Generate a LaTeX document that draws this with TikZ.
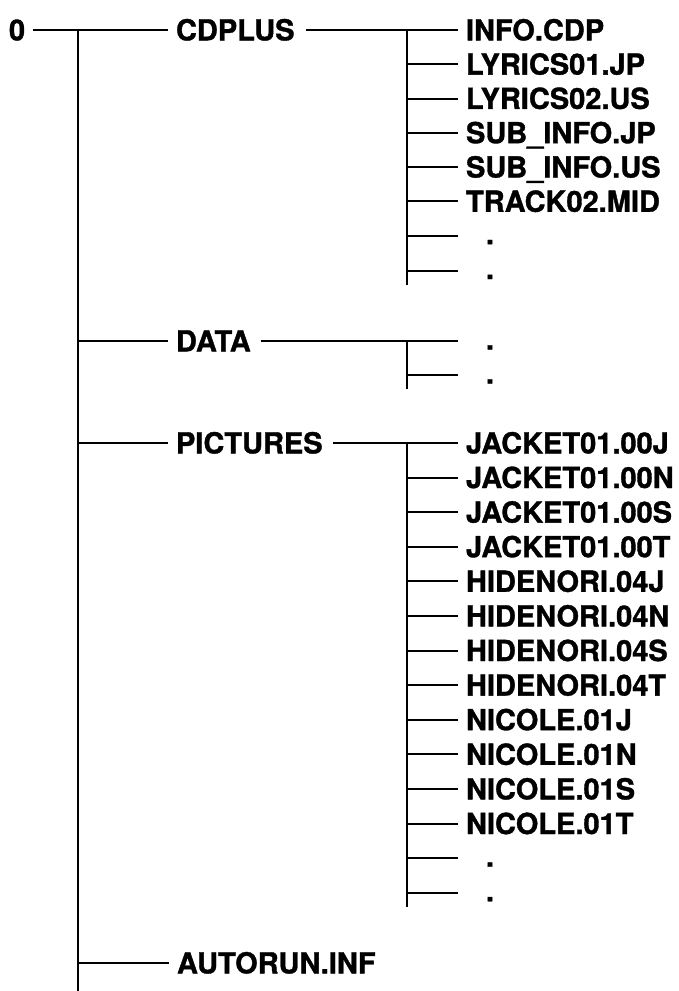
\documentclass[tikz,border=0pt]{standalone}
\usepackage{fontspec}
\setmainfont{TeX Gyre Heros}[BoldFeatures={FakeBold=1.2}]
\begin{document}
\begin{tikzpicture}[x=1pt,y=-1pt,
  lbl/.style={anchor=west, inner sep=0pt, outer sep=8pt, text height=20.8pt, text depth=0pt, font=\fontsize{29}{31}\selectfont\bfseries},
  dotlbl/.style={lbl, text height=17pt},
  hl/.style={line width=2pt},
  vl/.style={line width=2.9pt}]
\useasboundingbox (0,0) rectangle (678,991);
% root and directories
\node[lbl] (root) at (1,30) {0};
\node[lbl] (cdplus) at (168,30) {CDPLUS};
\node[lbl] (data) at (168,341) {DATA};
\node[lbl] (pict) at (168,443) {PICTURES};
\node[lbl] (autorun) at (169,963) {AUTORUN.INF};
% main trunk
\coordinate (m0) at (78,29);
\coordinate (m1) at (78,341);
\coordinate (m2) at (78,443);
\coordinate (m3) at (78,963);
\coordinate (mend) at (78,991);
\draw[vl] (m0) -- (mend);
\draw[hl] (root.east) -- (cdplus.west);
\draw[hl] (m1) -- (data.west);
\draw[hl] (m2) -- (pict.west);
\draw[hl] (m3) -- (autorun.west);
% CDPLUS subtree
\node[lbl] (c0) at (458,30.0) {INFO.CDP};
\node[lbl] (c1) at (458,64.2) {LYRICS01.JP};
\node[lbl] (c2) at (458,98.5) {LYRICS02.US};
\node[lbl] (c3) at (458,132.8) {SUB\_INFO.JP};
\node[lbl] (c4) at (458,167.1) {SUB\_INFO.US};
\node[lbl] (c5) at (458,201.4) {TRACK02.MID};
\node[dotlbl] (c6) at (458,235.7) {\hspace*{20pt}.};
\node[dotlbl] (c7) at (458,270.5) {\hspace*{20pt}.};
\coordinate (sc0) at (407,29);
\coordinate (sc1) at (407,64.2);
\coordinate (sc2) at (407,98.5);
\coordinate (sc3) at (407,132.8);
\coordinate (sc4) at (407,167.1);
\coordinate (sc5) at (407,201.4);
\coordinate (sc6) at (407,235.7);
\coordinate (sc7) at (407,270.5);
\coordinate (scend) at (407,285);
\draw[vl] (sc0) -- (scend);
\draw[hl, shorten <=4pt] (cdplus.east) -- (c0.west);
\foreach \i in {1,...,7} { \draw[hl] (sc\i) -- (c\i.west); }
% DATA subtree
\node[dotlbl] (d0) at (458,341) {\hspace*{20pt}.};
\node[dotlbl] (d1) at (458,375) {\hspace*{20pt}.};
\coordinate (sd0) at (407,340);
\coordinate (sd1) at (407,375);
\coordinate (sdend) at (407,389);
\draw[vl] (sd0) -- (sdend);
\draw[hl, shorten <=2pt] (data.east) -- (d0.west);
\draw[hl] (sd1) -- (d1.west);
% PICTURES subtree
\node[lbl] (p0) at (458,443.0) {JACKET01.00J};
\node[lbl] (p1) at (458,477.6) {JACKET01.00N};
\node[lbl] (p2) at (458,512.2) {JACKET01.00S};
\node[lbl] (p3) at (458,546.8) {JACKET01.00T};
\node[lbl] (p4) at (458,581.4) {HIDENORI.04J};
\node[lbl] (p5) at (458,616.0) {HIDENORI.04N};
\node[lbl] (p6) at (458,650.6) {HIDENORI.04S};
\node[lbl] (p7) at (458,685.2) {HIDENORI.04T};
\node[lbl] (p8) at (458,719.8) {NICOLE.01J};
\node[lbl] (p9) at (458,754.4) {NICOLE.01N};
\node[lbl] (p10) at (458,789.0) {NICOLE.01S};
\node[lbl] (p11) at (458,823.6) {NICOLE.01T};
\node[dotlbl] (p12) at (458,858.2) {\hspace*{20pt}.};
\node[dotlbl] (p13) at (458,892.8) {\hspace*{20pt}.};
\coordinate (sp0) at (407,442);
\foreach \i/\yy in {1/477.6,2/512.2,3/546.8,4/581.4,5/616.0,6/650.6,7/685.2,8/719.8,9/754.4,10/789.0,11/823.6,12/858.2,13/892.8} { \coordinate (sp\i) at (407,\yy); }
\coordinate (spend) at (407,907);
\draw[vl] (sp0) -- (spend);
\draw[hl, shorten <=2pt] (pict.east) -- (p0.west);
\foreach \i in {1,...,13} { \draw[hl] (sp\i) -- (p\i.west); }
\end{tikzpicture}
\end{document}
